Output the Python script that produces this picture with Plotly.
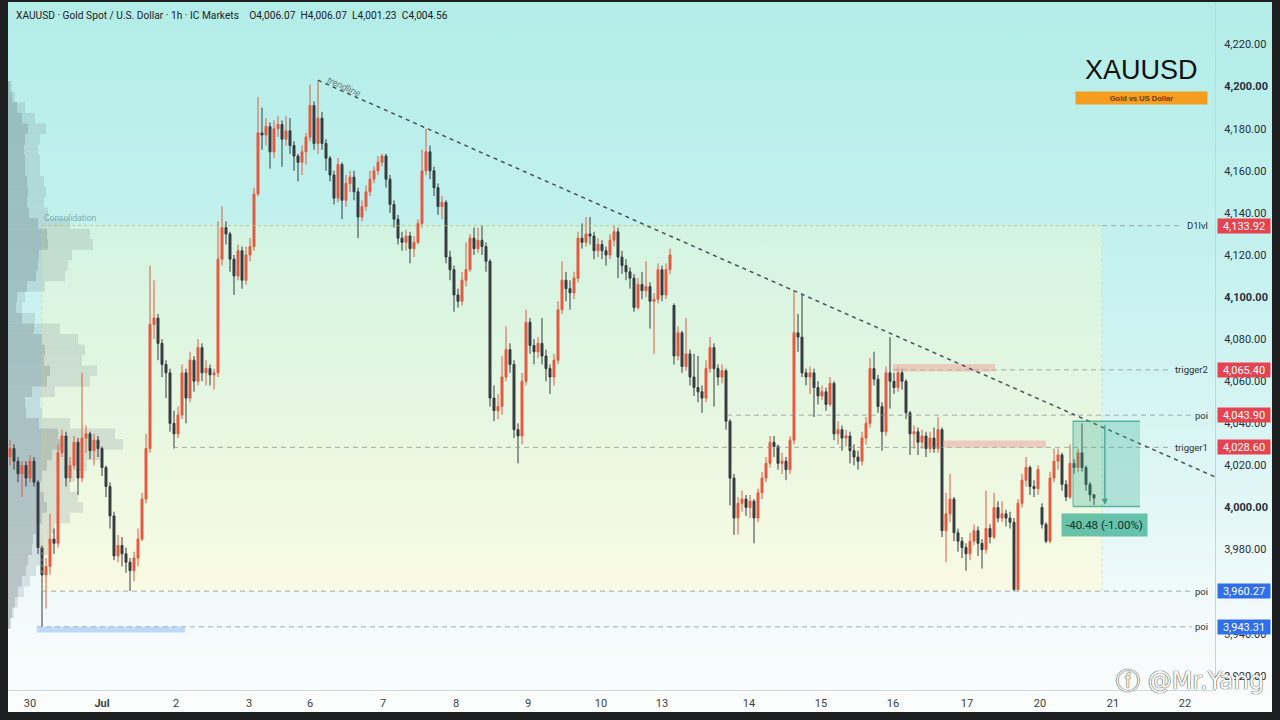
import base64
import plotly.graph_objects as go

# --- dữ liệu nến 1h, mỗi nến một chỉ số ---
FIRST_OPEN = 4024
GAP_OPENS = {166: 4096, 258: 4000}   # phiên mở cửa sau cuối tuần

closes = [
    4028, 4022, 4016, 4020, 4014, 4022, 4012, 3981, 3968, 3972,
    3985, 3983, 4026, 4034, 4014, 4020, 4031, 4014, 4033, 4035,
    4027, 4032, 4028, 4019, 4010, 3996, 3977, 3982, 3978, 3974,
    3970, 3976, 3985, 4004, 4028, 4087, 4090, 4078, 4068, 4064,
    4040, 4035, 4044, 4064, 4052, 4070, 4060, 4076, 4064, 4066,
    4063, 4064, 4118, 4133, 4130, 4118, 4110, 4122, 4108, 4120,
    4124, 4149, 4178, 4177, 4181, 4169, 4180, 4182, 4175, 4179,
    4172, 4167, 4164, 4169, 4176, 4191, 4173, 4185, 4173, 4166,
    4158, 4147, 4163, 4146, 4154, 4157, 4150, 4138, 4143, 4150,
    4156, 4160, 4164, 4167, 4156, 4144, 4137, 4128, 4126, 4129,
    4123, 4126, 4135, 4160, 4169, 4160, 4152, 4143, 4145, 4119,
    4113, 4101, 4098, 4108, 4113, 4128, 4123, 4127, 4124, 4117,
    4052, 4046, 4048, 4062, 4075, 4068, 4037, 4034, 4060, 4088,
    4077, 4074, 4078, 4072, 4066, 4062, 4070, 4094, 4108, 4104,
    4102, 4109, 4128, 4126, 4130, 4129, 4122, 4125, 4122, 4120,
    4127, 4131, 4119, 4115, 4112, 4109, 4095, 4106, 4103, 4105,
    4098, 4099, 4113, 4101, 4113, 4120, 4072, 4083, 4067, 4073,
    4062, 4057, 4055, 4052, 4066, 4076, 4066, 4062, 4065, 4041,
    4014, 3995, 4002, 4004, 4000, 4003, 3995, 4007, 4014, 4021,
    4031, 4029, 4021, 4022, 4018, 4032, 4083, 4081, 4064, 4062,
    4064, 4057, 4053, 4055, 4049, 4059, 4035, 4037, 4033, 4034,
    4027, 4024, 4022, 4033, 4040, 4066, 4061, 4048, 4036, 4064,
    4060, 4057, 4064, 4060, 4045, 4035, 4036, 4031, 4034, 4028,
    4033, 4028, 4037, 3989, 3997, 4004, 3988, 3984, 3981, 3978,
    3984, 3989, 3983, 3980, 3990, 3986, 4000, 3995, 3997, 3995,
    3993, 3961, 4002, 4013, 4019, 4010, 4009, 4018, 3992, 3984,
    4014, 4022, 4025, 4011, 4005, 4021, 4019, 4026, 4019, 4011,
    4006.07, 4004.56,
]
highs = [
    4032, 4030, 4024, 4022, 4022, 4025, 4024, 4013, 3982, 3976,
    3997, 3990, 4030, 4037, 4036, 4024, 4034, 4033, 4064, 4039,
    4036, 4035, 4034, 4029, 4020, 4012, 3998, 3987, 3986, 3981,
    3976, 3979, 3990, 4007, 4035, 4115, 4108, 4092, 4080, 4070,
    4066, 4046, 4048, 4068, 4066, 4074, 4072, 4080, 4078, 4070,
    4068, 4066, 4136, 4143, 4136, 4131, 4120, 4125, 4124, 4124,
    4128, 4152, 4195, 4190, 4185, 4183, 4184, 4186, 4184, 4186,
    4185, 4174, 4168, 4172, 4178, 4201, 4193, 4203, 4188, 4175,
    4167, 4160, 4166, 4164, 4158, 4160, 4160, 4152, 4146, 4153,
    4160, 4162, 4167, 4168, 4168, 4158, 4146, 4139, 4131, 4132,
    4131, 4129, 4137, 4170, 4180, 4172, 4162, 4154, 4148, 4146,
    4122, 4115, 4104, 4112, 4126, 4130, 4133, 4133, 4134, 4126,
    4118, 4058, 4054, 4072, 4086, 4078, 4070, 4040, 4064, 4094,
    4090, 4080, 4081, 4090, 4075, 4068, 4073, 4098, 4117, 4112,
    4108, 4112, 4131, 4135, 4138, 4138, 4131, 4128, 4127, 4124,
    4130, 4134, 4133, 4122, 4118, 4114, 4111, 4109, 4112, 4117,
    4107, 4102, 4116, 4115, 4116, 4123, 4097, 4086, 4084, 4090,
    4075, 4073, 4072, 4058, 4070, 4081, 4078, 4068, 4068, 4066,
    4042, 4016, 4005, 4008, 4006, 4006, 4004, 4009, 4017, 4024,
    4034, 4034, 4030, 4026, 4024, 4034, 4103, 4092, 4101, 4066,
    4067, 4066, 4060, 4058, 4057, 4062, 4060, 4041, 4039, 4037,
    4036, 4030, 4027, 4036, 4043, 4071, 4074, 4063, 4050, 4067,
    4081, 4064, 4067, 4066, 4061, 4046, 4039, 4038, 4037, 4036,
    4036, 4038, 4043, 4038, 4007, 4016, 4005, 3990, 3986, 3983,
    3988, 3992, 3991, 3985, 4008, 3992, 4007, 4003, 4003, 3999,
    3998, 3995, 4004, 4016, 4024, 4020, 4013, 4020, 4002, 3993,
    4017, 4028, 4028, 4026, 4013, 4030, 4023, 4028, 4040, 4020,
    4012, 4006.07,
]
lows = [
    4020, 4018, 4012, 4005, 4010, 4012, 4010, 3978, 3943.31, 3952,
    3968, 3978, 3981, 4024, 4010, 4012, 4018, 4006, 4012, 4026,
    4023, 4020, 4024, 4015, 4005, 3990, 3975, 3974, 3972, 3969,
    3960.3, 3965, 3972, 3984, 4002, 4026, 4080, 4070, 4062, 4052,
    4036, 4028, 4033, 4042, 4040, 4050, 4055, 4058, 4060, 4058,
    4058, 4056, 4062, 4115, 4125, 4112, 4101, 4108, 4104, 4106,
    4117, 4122, 4148, 4170, 4172, 4161, 4166, 4176, 4162, 4172,
    4168, 4160, 4155, 4158, 4163, 4174, 4170, 4168, 4170, 4160,
    4155, 4144, 4145, 4137, 4143, 4150, 4146, 4128, 4136, 4141,
    4148, 4154, 4158, 4162, 4152, 4140, 4133, 4125, 4122, 4122,
    4116, 4119, 4125, 4133, 4158, 4156, 4148, 4139, 4137, 4116,
    4108, 4093, 4095, 4096, 4105, 4112, 4120, 4121, 4120, 4112,
    4048, 4041, 4042, 4044, 4060, 4064, 4033, 4021, 4030, 4058,
    4073, 4068, 4071, 4068, 4060, 4054, 4058, 4068, 4092, 4098,
    4094, 4099, 4107, 4123, 4124, 4125, 4118, 4119, 4118, 4115,
    4118, 4124, 4109, 4111, 4108, 4104, 4093, 4094, 4099, 4100,
    4085, 4073, 4097, 4098, 4099, 4111, 4068, 4070, 4064, 4065,
    4058, 4053, 4050, 4045, 4050, 4064, 4048, 4058, 4059, 4037,
    4001, 3987, 3987, 3998, 3996, 3995, 3983, 3993, 4004, 4012,
    4019, 4024, 4018, 4016, 4013, 4016, 4030, 4074, 4062, 4058,
    4054, 4043, 4049, 4051, 4046, 4048, 4032, 4030, 4027, 4029,
    4021, 4020, 4018, 4020, 4030, 4038, 4058, 4045, 4027, 4034,
    4047, 4054, 4055, 4056, 4042, 4025, 4028, 4025, 4028, 4024,
    4026, 4026, 4026, 3986, 3974, 3993, 3984, 3979, 3976, 3970,
    3975, 3982, 3977, 3971, 3978, 3983, 3985, 3993, 3993, 3991,
    3990, 3960.27, 3960.5, 4000, 4010, 4006, 4005, 4006, 3990, 3983,
    3983, 4012, 4018, 4008, 4003, 4004, 4016, 4017, 4017, 4008,
    4003, 4001.23,
]
assert len(closes) == len(highs) == len(lows)

# nhãn ngày trên trục X (vị trí theo chỉ số nến)
day_ticks = [5, 23, 41.5, 59.75, 75, 93.25, 111.5, 129.5, 147.75, 163,
             184.75, 202.75, 220.75, 239.25, 257.5, 275.75, 293.75]
day_labels = ["30", "<b>Jul</b>", "2", "3", "6", "7", "8", "9", "10", "13",
              "14", "15", "16", "17", "20", "21", "22"]

# volume profile bên trái
prof_prices = list(range(3945, 4205, 5))
prof_total = [0.3, 0.6, 1.0, 1.6, 2.2, 2.8, 3.2, 4.0, 4.2, 4.7,
              6.2, 7.5, 7.0, 6.2, 6.7, 7.9, 9.2, 11.5, 10.7, 6.2,
              3.4, 3.2, 4.7, 8.2, 8.9, 7.4, 7.7, 7.0, 5.2, 2.7,
              1.4, 1.7, 3.7, 5.7, 6.0, 6.4, 8.5, 8.2, 6.2, 4.0,
              3.6, 3.8, 3.6, 3.2, 3.2, 3.0, 3.2, 3.8, 2.7, 1.7,
              0.7, 0.4]
prof_inner = [0.2, 0.4, 0.7, 1.0, 1.4, 1.8, 2.0, 2.4, 2.5, 2.8,
              3.4, 3.9, 3.6, 3.2, 3.4, 3.9, 4.4, 5.3, 5.0, 3.1,
              1.8, 1.7, 2.4, 3.9, 4.2, 3.6, 3.7, 3.4, 2.6, 1.4,
              0.8, 0.9, 1.9, 2.8, 3.0, 3.1, 4.0, 3.9, 3.0, 2.1,
              1.9, 2.0, 1.9, 1.7, 1.7, 1.6, 1.7, 2.0, 1.4, 0.9,
              0.4, 0.2]

# các mức giá kẻ ngang
level_prices = [4133.92, 4065.40, 4043.90, 4028.60, 3960.27, 3943.31]
level_names = ["D1lvl", "trigger2", "poi", "trigger1", "poi", "poi"]
level_start = [273, 220.75, 179.25, 40.75, 8, 6.75]
level_side = ["sell", "sell", "sell", "sell", "buy", "buy"]

# vùng consolidation
consol_x = [8, 273]
consol_y = [3960.27, 4133.92]

# trendline qua 2 đỉnh
trend_x = [77, 196]
trend_y = [4203, 4103]

# các dải nhỏ (trigger2, trigger1, poi dưới)
zone_x0 = [220.75, 233.25, 6.75]
zone_x1 = [246.25, 259, 43.75]
zone_y0 = [4064.6, 4028.4, 3940.6]
zone_y1 = [4068.2, 4031.8, 3943.31]
zone_col = ["rgba(236,168,158,0.55)", "rgba(236,168,158,0.55)", "rgba(165,198,245,0.65)"]

# short position
pos_x = [265.75, 282.5]
pos_entry = 4041.0
pos_target = 4000.52

# --- khung vẽ ---
W, H = 1280, 720
ML, MR, MT, MB = 8, 65, 2, 30
PW, PH = W - ML - MR, H - MT - MB
XR = [-0.5, 301.25]
YR = [3913.3, 4240.2]
VOL_TO_X = 2.5


def px(x):
    return (x - ML) / PW


def py(y):
    return 1 - (y - MT) / PH


def vgrad(stops):
    s = "".join(f'<stop offset="{o}" stop-color="{c}"/>' for o, c in stops)
    svg = ('<svg xmlns="http://www.w3.org/2000/svg" width="10" height="100" '
           'viewBox="0 0 10 100" preserveAspectRatio="none"><defs>'
           '<linearGradient id="g" x1="0" y1="0" x2="0" y2="1">' + s +
           '</linearGradient></defs><rect x="0" y="0" width="10" height="100" '
           'fill="url(#g)"/></svg>')
    return "data:image/svg+xml;base64," + base64.b64encode(svg.encode()).decode()


opens = []
prev = FIRST_OPEN
for i, c in enumerate(closes):
    opens.append(GAP_OPENS.get(i, prev))
    prev = c
idx = list(range(len(closes)))

fig = go.Figure()

fig.add_trace(go.Bar(
    y=prof_prices, x=[v * VOL_TO_X for v in prof_total], base=-0.5, orientation="h",
    width=5, marker=dict(color="rgba(115,132,138,0.20)", line=dict(width=0)),
    hoverinfo="skip", showlegend=False))
fig.add_trace(go.Bar(
    y=prof_prices, x=[v * VOL_TO_X for v in prof_inner], base=-0.5, orientation="h",
    width=5, marker=dict(color="rgba(80,96,102,0.22)", line=dict(width=0)),
    hoverinfo="skip", showlegend=False))

fig.add_trace(go.Candlestick(
    x=idx, open=opens, high=highs, low=lows, close=closes,
    increasing=dict(line=dict(color="#e9573d", width=1), fillcolor="#e9573d"),
    decreasing=dict(line=dict(color="#363b3f", width=1), fillcolor="#363b3f"),
    whiskerwidth=0, hoverinfo="skip", showlegend=False))

shapes = []
# dải nền dưới trục X
shapes.append(dict(type="rect", xref="paper", yref="paper", x0=0, x1=px(W - 8),
                   y0=py(H - 8), y1=0, fillcolor="#fbfdfd", line=dict(width=0), layer="below"))
# viền consolidation
shapes.append(dict(type="line", xref="x", yref="y", x0=consol_x[0], x1=consol_x[1],
                   y0=consol_y[1], y1=consol_y[1],
                   line=dict(color="rgba(195,190,105,0.75)", width=1, dash="dot")))
for xv in consol_x:
    shapes.append(dict(type="line", xref="x", yref="y", x0=xv, x1=xv,
                       y0=consol_y[0], y1=consol_y[1],
                       line=dict(color="rgba(215,210,140,0.55)", width=1, dash="dot")))
# các mức ngang
for p, name, x0 in zip(level_prices, level_names, level_start):
    x_end = 300 - (len(name) * 4.4 + 5) / 4
    shapes.append(dict(type="line", xref="x", yref="y", x0=x0, x1=x_end, y0=p, y1=p,
                       line=dict(color="rgba(140,145,148,0.75)", width=1, dash="5px,4px")))
# các dải màu
for x0, x1, y0, y1, c in zip(zone_x0, zone_x1, zone_y0, zone_y1, zone_col):
    shapes.append(dict(type="rect", xref="x", yref="y", x0=x0, x1=x1, y0=y0, y1=y1,
                       fillcolor=c, line=dict(width=0)))
# trendline kéo dài tới mép phải
slope = (trend_y[1] - trend_y[0]) / (trend_x[1] - trend_x[0])
t_end = trend_y[0] + slope * (XR[1] - trend_x[0])
shapes.append(dict(type="line", xref="x", yref="y", x0=trend_x[0], y0=trend_y[0],
                   x1=XR[1], y1=t_end, line=dict(color="#4a5256", width=1.5, dash="4px,4px")))
# hộp vị thế
shapes.append(dict(type="rect", xref="x", yref="y", x0=pos_x[0], x1=pos_x[1],
                   y0=pos_target, y1=pos_entry, fillcolor="rgba(60,175,148,0.30)",
                   line=dict(width=0)))
for yv in (pos_entry, pos_target):
    shapes.append(dict(type="line", xref="x", yref="y", x0=pos_x[0], x1=pos_x[1],
                       y0=yv, y1=yv, line=dict(color="rgba(60,165,140,0.8)", width=1.5)))
shapes.append(dict(type="line", xref="x", yref="y", x0=pos_x[0], x1=pos_x[0],
                   y0=pos_target, y1=pos_entry, line=dict(color="rgba(60,165,140,0.8)", width=1)))

ann = []
last = len(closes) - 1
header = ("XAUUSD · Gold Spot / U.S. Dollar · 1h · IC Markets\u2003"
          f"O{opens[last]:,.2f}\u2002H{highs[last]:,.2f}\u2002"
          f"L{lows[last]:,.2f}\u2002C{closes[last]:,.2f}")
ann.append(dict(xref="paper", yref="paper", x=px(14), y=py(15), xanchor="left",
                yanchor="middle", text=header, showarrow=False,
                font=dict(size=10.2, color="#1e2226", family="Roboto")))
ann.append(dict(xref="paper", yref="paper", x=px(1141), y=py(70), xanchor="center",
                yanchor="middle", text="XAUUSD", showarrow=False,
                font=dict(size=27, color="#111111", family="Liberation Sans")))
ann.append(dict(xref="paper", yref="paper", x=px(1141.5), y=py(98), xanchor="center",
                yanchor="middle", text="<b>Gold vs US Dollar</b>", showarrow=False,
                bgcolor="#f49d1f", width=131, height=12, borderpad=0,
                font=dict(size=7.5, color="#6a3a06", family="Liberation Sans")))
ann.append(dict(xref="x", yref="y", x=consol_x[0], y=consol_y[1], xanchor="left",
                yanchor="bottom", yshift=1, text="Consolidation", showarrow=False,
                font=dict(size=8.5, color="rgba(115,160,160,0.85)", family="Roboto")))
ann.append(dict(xref="x", yref="y", x=83.5, y=4200, text="trendline", showarrow=False,
                textangle=24, font=dict(size=9.5, color="#6f7f84", family="Roboto",
                                        style="italic")))
for p, name, side in zip(level_prices, level_names, level_side):
    ann.append(dict(xref="paper", yref="y", x=px(1210), y=p, xanchor="right",
                    yanchor="middle", text=name, showarrow=False,
                    font=dict(size=9.5, color="#2a2e39", family="Roboto")))
    ann.append(dict(xref="paper", yref="y", x=px(1216.5), y=p, xanchor="left",
                    yanchor="middle", text=f"{p:,.2f}", showarrow=False,
                    bgcolor="#e5434f" if side == "sell" else "#2f6fec",
                    width=52, height=14, borderpad=0,
                    font=dict(size=11, color="white", family="Roboto")))
mid_x = (pos_x[0] + pos_x[1]) / 2 - 0.4
ann.append(dict(xref="x", yref="y", x=mid_x, y=pos_target + 0.8, ax=mid_x, ay=pos_entry - 1,
                axref="x", ayref="y", text="", showarrow=True, arrowhead=2,
                arrowsize=1, arrowwidth=1.2, arrowcolor="#3d9e8a"))
diff = pos_target - pos_entry
ann.append(dict(xref="x", yref="y", x=mid_x, y=pos_target, yanchor="top", yshift=-7,
                text=f"{diff:.2f} ({diff / pos_entry * 100:.2f}%)", showarrow=False,
                bgcolor="rgba(80,185,158,0.85)", borderpad=4,
                font=dict(size=11.5, color="#10302a", family="Roboto")))
ann.append(dict(xref="paper", yref="paper", x=px(1266), y=py(681), xanchor="right",
                yanchor="middle", text="ⓕ @Mr.Yang", showarrow=False,
                font=dict(size=24, color="white", family="DejaVu Sans",
                          shadow="0px 0px 1px #333, 0px 0px 1px #333")))

y_ticks = list(range(3920, 4260, 20))
y_text = [f"<b>{v:,.2f}</b>" if v % 100 == 0 else f"{v:,.2f}" for v in y_ticks]

fig.update_layout(
    width=W, height=H,
    margin=dict(l=ML, r=MR, t=MT, b=MB),
    paper_bgcolor="#1d1e20",
    plot_bgcolor="rgba(0,0,0,0)",
    barmode="overlay",
    boxgap=0.3,
    hovermode=False,
    showlegend=False,
    font=dict(family="Roboto"),
    shapes=shapes,
    annotations=ann,
    images=[
        dict(source=vgrad([(0, "#b3ede8"), (0.4, "#c6f2ef"), (0.7, "#dff6f6"),
                           (0.88, "#f2fafb"), (1, "#f9fcfd")]),
             xref="paper", yref="paper", x=0, y=1, sizex=px(W - 8), sizey=1,
             xanchor="left", yanchor="top", sizing="stretch", layer="below"),
        dict(source=vgrad([(0, "#d3f4e2"), (0.5, "#e6f7e1"), (1, "#f9fae3")]),
             xref="x", yref="y", x=consol_x[0], y=consol_y[1],
             sizex=consol_x[1] - consol_x[0], sizey=consol_y[1] - consol_y[0],
             xanchor="left", yanchor="top", sizing="stretch", layer="below"),
    ],
    xaxis=dict(range=XR, tickvals=day_ticks, ticktext=day_labels, ticks="",
               showgrid=False, zeroline=False, showline=True, linecolor="#d3d9dc",
               rangeslider=dict(visible=False), ticklabelstandoff=3,
               tickfont=dict(size=11, color="#3a3f44", family="Roboto")),
    yaxis=dict(range=YR, side="right", tickvals=y_ticks, ticktext=y_text, ticks="",
               showgrid=False, zeroline=False, showline=True, linecolor="#c9d3d6",
               ticklabelstandoff=6,
               tickfont=dict(size=11, color="#2a2e39", family="Roboto")),
)

# bỏ lề mặc định của trang để hình nằm đúng góc trên trái, ẩn thanh công cụ
fig.write_html("out.html",
               config={"displayModeBar": False},
               post_script="document.body.style.margin='0';"
                           "document.body.style.background='#1d1e20';")
